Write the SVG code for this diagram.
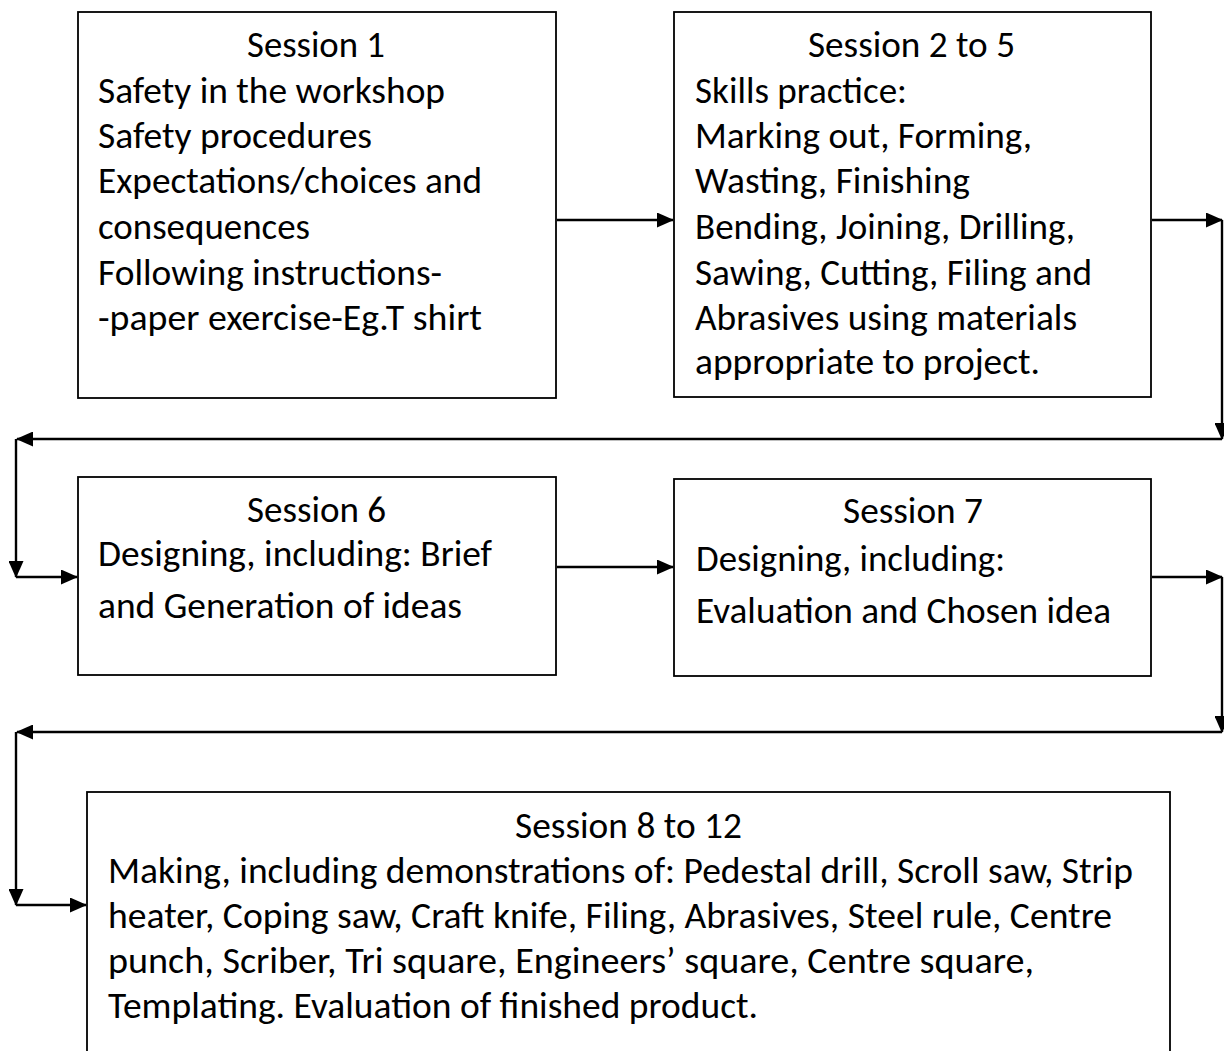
<svg xmlns="http://www.w3.org/2000/svg" width="1224" height="1051" viewBox="0 0 1224 1051">
<defs>
<marker id="ah" viewBox="0 0 17 15" refX="16" refY="7.5" markerWidth="17" markerHeight="15" markerUnits="userSpaceOnUse" orient="auto">
<path d="M0,0 L17,7.5 L0,15 Z" fill="#000"/>
</marker>
<style>
.box{fill:#fff;stroke:#000;stroke-width:1.8}
.t{font-family:Carlito,"Open Sans","Noto Sans",sans-serif;font-size:37px;fill:#000}
.ca{fill:none;stroke:#000;stroke-width:2.4;marker-end:url(#ah)}
</style>
</defs>
<rect width="1224" height="1051" fill="#fff"/>
<g id="n1">
<rect class="box" x="78" y="12" width="478" height="386"/>
<text class="t" x="247" y="57" textLength="138" lengthAdjust="spacingAndGlyphs">Session 1</text>
<text class="t" x="98" y="103" textLength="347" lengthAdjust="spacingAndGlyphs">Safety in the workshop</text>
<text class="t" x="98" y="148" textLength="274" lengthAdjust="spacingAndGlyphs">Safety procedures</text>
<text class="t" x="98" y="193" textLength="384" lengthAdjust="spacingAndGlyphs">Expectations/choices and</text>
<text class="t" x="98" y="239" textLength="212" lengthAdjust="spacingAndGlyphs">consequences</text>
<text class="t" x="98" y="285" textLength="344" lengthAdjust="spacingAndGlyphs">Following instructions-</text>
<text class="t" x="98" y="330" textLength="384" lengthAdjust="spacingAndGlyphs">-paper exercise-Eg.T shirt</text>
</g>
<g id="n2">
<rect class="box" x="674" y="12" width="477" height="385"/>
<text class="t" x="808" y="57" textLength="207" lengthAdjust="spacingAndGlyphs">Session 2 to 5</text>
<text class="t" x="695" y="103" textLength="212" lengthAdjust="spacingAndGlyphs">Skills practice:</text>
<text class="t" x="695" y="148" textLength="337" lengthAdjust="spacingAndGlyphs">Marking out, Forming,</text>
<text class="t" x="695" y="193" textLength="275" lengthAdjust="spacingAndGlyphs">Wasting, Finishing</text>
<text class="t" x="695" y="239" textLength="380" lengthAdjust="spacingAndGlyphs">Bending, Joining, Drilling,</text>
<text class="t" x="695" y="285" textLength="397" lengthAdjust="spacingAndGlyphs">Sawing, Cutting, Filing and</text>
<text class="t" x="695" y="330" textLength="382" lengthAdjust="spacingAndGlyphs">Abrasives using materials</text>
<text class="t" x="695" y="374" textLength="345" lengthAdjust="spacingAndGlyphs">appropriate to project.</text>
</g>
<g id="n3">
<rect class="box" x="78" y="477" width="478" height="198"/>
<text class="t" x="247" y="522" textLength="139" lengthAdjust="spacingAndGlyphs">Session 6</text>
<text class="t" x="98" y="566" textLength="394" lengthAdjust="spacingAndGlyphs">Designing, including: Brief</text>
<text class="t" x="98" y="618" textLength="364" lengthAdjust="spacingAndGlyphs">and Generation of ideas</text>
</g>
<g id="n4">
<rect class="box" x="674" y="479" width="477" height="197"/>
<text class="t" x="843" y="523" textLength="140" lengthAdjust="spacingAndGlyphs">Session 7</text>
<text class="t" x="696" y="571" textLength="309" lengthAdjust="spacingAndGlyphs">Designing, including:</text>
<text class="t" x="696" y="623" textLength="415" lengthAdjust="spacingAndGlyphs">Evaluation and Chosen idea</text>
</g>
<g id="n5">
<rect class="box" x="87" y="792" width="1083" height="280"/>
<text class="t" x="515" y="838" textLength="227" lengthAdjust="spacingAndGlyphs">Session 8 to 12</text>
<text class="t" x="108" y="883" textLength="1025" lengthAdjust="spacingAndGlyphs">Making, including demonstrations of: Pedestal drill, Scroll saw, Strip</text>
<text class="t" x="108" y="928" textLength="1004" lengthAdjust="spacingAndGlyphs">heater, Coping saw, Craft knife, Filing, Abrasives, Steel rule, Centre</text>
<text class="t" x="108" y="973" textLength="926" lengthAdjust="spacingAndGlyphs">punch, Scriber, Tri square, Engineers’ square, Centre square,</text>
<text class="t" x="108" y="1018" textLength="650" lengthAdjust="spacingAndGlyphs">Templating. Evaluation of finished product.</text>
</g>
<g id="connectors">
<line class="ca" x1="557" y1="220" x2="673" y2="220"/>
<line class="ca" x1="1152" y1="220" x2="1222" y2="220"/>
<line class="ca" x1="1222" y1="220" x2="1222" y2="439"/>
<line class="ca" x1="1222" y1="439" x2="17" y2="439"/>
<line class="ca" x1="16" y1="439" x2="16" y2="577"/>
<line class="ca" x1="16" y1="577" x2="77" y2="577"/>
<line class="ca" x1="557" y1="567" x2="673" y2="567"/>
<line class="ca" x1="1152" y1="577" x2="1222" y2="577"/>
<line class="ca" x1="1222" y1="577" x2="1222" y2="732"/>
<line class="ca" x1="1222" y1="732" x2="17" y2="732"/>
<line class="ca" x1="16" y1="732" x2="16" y2="905"/>
<line class="ca" x1="16" y1="905" x2="86" y2="905"/>
</g>
</svg>
